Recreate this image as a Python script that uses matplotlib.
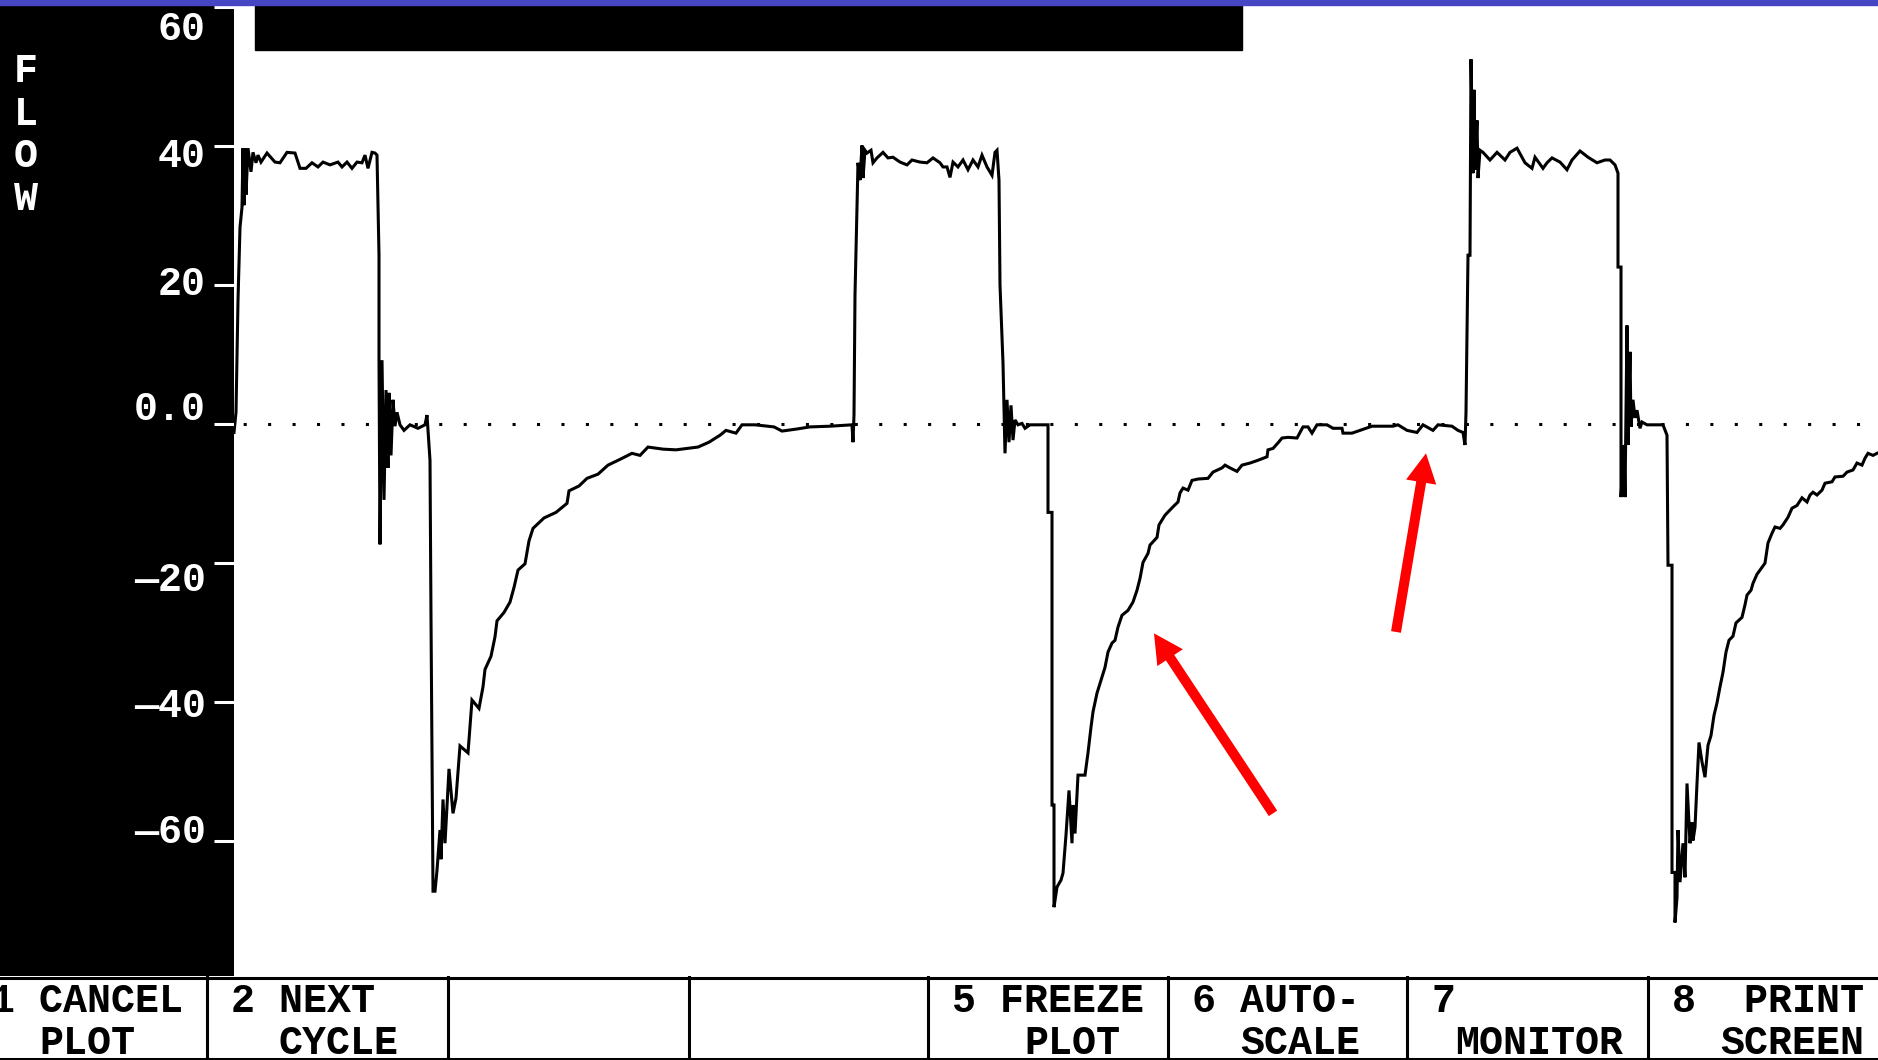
import matplotlib
matplotlib.use("Agg")
import matplotlib.pyplot as plt
from matplotlib.patches import Rectangle

# flow trace, time in s, flow in L/min
breath1_t = [0.00, 0.02, 0.04, 0.06, 0.08, 0.09, 0.10, 0.11, 0.12, 0.14,
             0.17, 0.19, 0.22, 0.24, 0.27, 0.33, 0.41, 0.46, 0.53, 0.61,
             0.66, 0.72, 0.78, 0.84, 0.89, 0.96, 1.04, 1.08, 1.13, 1.18,
             1.23, 1.28, 1.31, 1.34, 1.38, 1.41, 1.43, 1.45, 1.45, 1.46,
             1.48, 1.50, 1.52, 1.54, 1.55, 1.57, 1.59, 1.61, 1.63, 1.66,
             1.70, 1.76, 1.84, 1.91, 1.93, 1.96, 1.97, 1.99, 2.01, 2.03,
             2.06, 2.07, 2.09, 2.11, 2.15, 2.19, 2.22, 2.26, 2.34, 2.38,
             2.45, 2.49, 2.51, 2.57, 2.61, 2.63, 2.70, 2.76, 2.80, 2.84,
             2.91, 2.95, 2.99, 3.10, 3.22, 3.33, 3.35, 3.45, 3.53, 3.64,
             3.74, 3.87, 3.98, 4.06, 4.14, 4.29, 4.42, 4.64, 4.75, 4.86,
             4.92, 5.02, 5.08, 5.21, 5.40, 5.48, 5.63, 5.76, 5.96, 6.18]
breath1_flow = [-1.2, 1.7, 17.8, 28.3, 31.2, 39.7, 31.5, 39.7, 33.0, 39.7,
                36.3, 39.1, 37.6, 38.7, 37.7, 39.0, 37.7, 37.6, 39.1, 39.0,
                36.8, 36.8, 37.6, 37.0, 37.7, 37.3, 37.7, 37.0, 37.7, 36.8,
                37.7, 37.6, 38.7, 36.8, 39.1, 39.0, 38.7, 24.3, 9.2, -17.3,
                9.2, -10.9, 4.9, -6.3, 4.5, -4.5, 3.5, -0.3, 1.7, -0.1,
                -0.9, -0.1, -0.6, -0.1, 1.3, -5.2, -27.9, -67.2, -67.2, -64.2,
                -58.4, -62.6, -54.0, -60.3, -49.6, -56.0, -53.8, -46.3, -47.3, -39.7,
                -40.9, -37.8, -35.3, -33.4, -30.6, -28.3, -27.1, -25.6, -23.5, -21.0,
                -20.1, -16.8, -15.0, -13.5, -12.7, -11.4, -9.6, -8.9, -7.8, -7.2,
                -5.9, -5.0, -4.2, -4.5, -3.3, -3.6, -3.7, -3.3, -2.6, -1.6,
                -0.9, -1.3, -0.1, -0.1, -0.4, -1.0, -0.7, -0.4, -0.3, -0.1]

breath2_t = [6.19, 6.20, 6.21, 6.24, 6.26, 6.28, 6.29, 6.31, 6.33, 6.37,
             6.39, 6.43, 6.49, 6.54, 6.59, 6.66, 6.73, 6.78, 6.86, 6.93,
             6.99, 7.06, 7.09, 7.13, 7.16, 7.19, 7.24, 7.29, 7.34, 7.39,
             7.44, 7.48, 7.53, 7.58, 7.61, 7.63, 7.65, 7.66, 7.69, 7.71,
             7.73, 7.75, 7.77, 7.79, 7.81, 7.84, 7.88, 7.91, 7.96, 8.14,
             8.14, 8.18, 8.18, 8.20, 8.20, 8.23, 8.27, 8.29, 8.32, 8.35,
             8.38, 8.39, 8.41, 8.44, 8.51, 8.54, 8.57, 8.59, 8.63, 8.68,
             8.71, 8.74, 8.78, 8.81, 8.84, 8.88, 8.94, 8.99, 9.03, 9.06,
             9.09, 9.14, 9.16, 9.23, 9.25, 9.31, 9.39, 9.44, 9.46, 9.49,
             9.54, 9.58, 9.64, 9.74, 9.79, 9.88, 9.91, 9.96, 10.03, 10.08,
             10.16, 10.24, 10.33, 10.34, 10.39, 10.44, 10.48, 10.54, 10.63, 10.66,
             10.69, 10.74, 10.78, 10.83, 10.93, 10.99, 11.08, 11.09, 11.18, 11.26,
             11.38, 11.59, 11.64, 11.73, 11.83, 11.89, 11.99, 12.04, 12.18, 12.24,
             12.29, 12.31, 12.32]
breath2_flow = [-2.6, 1.3, 18.6, 37.6, 35.1, 40.1, 35.4, 39.4, 39.0, 39.4,
                37.6, 38.3, 39.1, 38.3, 38.4, 37.7, 37.3, 38.0, 37.7, 37.6,
                38.3, 37.6, 37.0, 37.0, 35.5, 37.7, 37.0, 38.0, 36.6, 38.0,
                37.0, 38.7, 37.0, 35.8, 39.1, 39.4, 35.1, 20.0, 8.8, -4.2,
                3.5, -2.6, 2.7, -2.3, 0.6, -0.1, 0.1, -0.6, -0.1, -0.1,
                -12.7, -12.7, -54.8, -54.8, -69.5, -66.6, -65.6, -64.6, -59.1, -52.7,
                -60.3, -54.8, -58.9, -50.5, -50.5, -47.3, -43.6, -41.4, -38.7, -36.4,
                -35.0, -32.8, -31.5, -31.1, -29.2, -27.5, -26.8, -25.6, -23.9, -22.2,
                -19.9, -18.6, -17.4, -16.3, -14.5, -13.1, -11.9, -11.2, -9.9, -9.2,
                -9.5, -8.1, -7.9, -7.8, -6.9, -6.3, -5.9, -6.3, -6.8, -5.9,
                -5.6, -5.2, -4.7, -3.7, -3.5, -2.7, -2.0, -1.9, -2.0, -1.2,
                -0.4, -0.4, -1.3, -0.1, -0.1, -0.6, -0.6, -1.3, -1.3, -0.9,
                -0.3, -0.3, -0.1, -0.9, -1.2, -0.1, -0.9, -0.1, -0.3, -0.9,
                -1.2, -3.0, 1.7]

breath3_t = [12.34, 12.36, 12.37, 12.39, 12.40, 12.41, 12.43, 12.44, 12.46, 12.49,
             12.56, 12.63, 12.71, 12.76, 12.83, 12.91, 12.98, 13.01, 13.09, 13.13,
             13.18, 13.26, 13.33, 13.38, 13.46, 13.54, 13.63, 13.71, 13.76, 13.81,
             13.84, 13.84, 13.87, 13.87, 13.90, 13.91, 13.93, 13.94, 13.96, 13.97,
             13.99, 14.01, 14.03, 14.06, 14.08, 14.13, 14.29, 14.33, 14.34, 14.38,
             14.38, 14.41, 14.41, 14.43, 14.44, 14.46, 14.49, 14.51, 14.53, 14.56,
             14.58, 14.59, 14.61, 14.63, 14.65, 14.68, 14.71, 14.74, 14.77, 14.80,
             14.83, 14.86, 14.89, 14.92, 14.95, 14.99, 15.02, 15.05, 15.08, 15.11,
             15.13, 15.17, 15.19, 15.23, 15.26, 15.31, 15.34, 15.38, 15.41, 15.46,
             15.49, 15.54, 15.58, 15.63, 15.68, 15.73, 15.76, 15.79, 15.83, 15.88,
             15.91, 15.98, 16.01, 16.09, 16.13, 16.19, 16.23, 16.28, 16.31, 16.34,
             16.39, 16.43]
breath3_flow = [24.3, 24.3, 52.5, 36.1, 48.1, 36.6, 43.7, 35.4, 39.4, 39.1,
                38.0, 39.1, 38.0, 39.1, 39.7, 37.6, 36.8, 38.4, 36.8, 37.6,
                38.3, 37.7, 36.6, 38.0, 39.3, 38.4, 37.6, 38.0, 38.0, 37.3,
                36.1, 22.6, 22.6, -10.5, -3.0, -10.5, 14.2, -3.0, 10.4, -0.4,
                3.5, 0.9, 2.0, -0.6, 0.3, -0.1, -0.1, -1.6, -20.3, -20.3,
                -64.5, -64.5, -71.7, -68.1, -58.4, -65.9, -60.3, -65.2, -51.7, -60.3,
                -57.3, -59.9, -58.0, -51.7, -45.8, -48.6, -50.8, -46.2, -44.8, -41.9,
                -40.1, -37.8, -35.7, -32.8, -31.1, -30.5, -28.6, -28.2, -27.8, -26.0,
                -24.6, -23.9, -22.9, -21.6, -21.0, -20.0, -17.1, -15.7, -14.8, -15.0,
                -14.5, -13.4, -12.1, -11.7, -10.6, -11.2, -10.2, -9.8, -10.2, -9.5,
                -8.5, -8.3, -7.6, -7.5, -6.9, -6.6, -5.6, -5.9, -4.9, -4.2,
                -4.5, -4.2]

ytick_vals = [60, 40, 20, 0, -20, -40, -60]
ytick_labels = ["60", "40", "20", "0.0", "\u201420", "\u201440", "\u201460"]
# labels sit on the screen's text rows, not exactly on the ticks
label_drop_px = [33, 21, 10, -4, 28, 15, 2]

# red annotation arrows: (time, flow) of tail and tip
arrow_tails = [(10.39, -56.0), (11.62, -29.9)]
arrow_tips = [(9.20, -30.1), (11.92, -4.2)]

# function key bar (text laid out on a 24 px character grid)
key_cells = [-33, 207, 448, 689, 928, 1168, 1407, 1648]
key_line1 = ["1 CANCEL", "2 NEXT", "", "", "5 FREEZE", "6 AUTO-", "7", "8  PRINT"]
key_line2 = ["  PLOT", "  CYCLE", "", "", "   PLOT", "  SCALE", " MONITOR", "  SCREEN"]

MONO = ["Liberation Mono", "DejaVu Sans Mono"]
FS = 28.8
CHAR = 24

fig = plt.figure(figsize=(18.78, 10.60), dpi=100, facecolor="black")

ax = fig.add_axes([234 / 1878, 84 / 1060, 1644 / 1878, 971 / 1060])
ax.set_facecolor("white")
ax.set_xlim(0, 16.44)
ax.set_ylim(-79.4, 60.3)
for s in ax.spines.values():
    s.set_visible(False)
ax.set_xticks([])
ax.set_yticks(ytick_vals)
ax.tick_params(axis="y", direction="out", length=14.4, width=2.2,
               color="white", labelleft=False)

t_all = breath1_t + breath2_t + breath3_t
f_all = breath1_flow + breath2_flow + breath3_flow
ax.plot(t_all, f_all, color="black", lw=2.2, solid_joinstyle="miter", zorder=3)

# dotted zero line
ax.axhline(0, color="black", lw=2.2, linestyle=(5, (1, 7)), zorder=2)

for val, lab, dy in zip(ytick_vals, ytick_labels, label_drop_px):
    ax.annotate(lab, xy=(0, val), xycoords=ax.get_yaxis_transform(),
                xytext=(-28, -dy), textcoords="offset pixels",
                ha="right", va="baseline", color="white", fontsize=FS,
                fontweight="bold", family=MONO, annotation_clip=False)

for tail, tip in zip(arrow_tails, arrow_tips):
    ax.annotate("", xy=tip, xytext=tail,
                arrowprops=dict(facecolor="#ff0000", edgecolor="none",
                                width=7.2, headwidth=22, headlength=21,
                                shrink=0),
                zorder=6)

# black title block at the top of the plot area
ax.add_patch(Rectangle((21 / 1644, (976 - 50) / 971), 987 / 1644, 45 / 971,
                       transform=ax.transAxes, color="black", zorder=5,
                       clip_on=False))

# blue strip along the very top
fig.add_artist(Rectangle((0, 1 - 5 / 1060), 1, 5 / 1060,
                         transform=fig.transFigure, color="#4646c4"))

# vertical FLOW label
for i, ch in enumerate("FLOW"):
    base = [82, 125, 167, 210][i]
    fig.text(26 / 1878, 1 - base / 1060, ch, ha="center", va="baseline",
             color="white", fontsize=FS, fontweight="bold", family=MONO)

# function key bar at the bottom
bx = fig.add_axes([0, 0, 1, 84 / 1060])
bx.set_xlim(0, 1878)
bx.set_ylim(0, 84)
bx.set_facecolor("white")
bx.set_xticks([])
bx.set_yticks([])
for s in bx.spines.values():
    s.set_visible(False)
bx.axhline(82.5, color="black", lw=2.2)
bx.axhline(1.5, color="black", lw=2.2)
for x0, l1, l2 in zip(key_cells, key_line1, key_line2):
    if x0 > 0:
        bx.axvline(x0, color="black", lw=2.2)
    bx.text(x0 + CHAR, 48, l1, ha="left", va="baseline", color="black",
            fontsize=FS, fontweight="bold", family=MONO)
    indent = len(l2) - len(l2.lstrip())
    bx.text(x0 + CHAR * (1 + indent), 6, l2.strip(), ha="left",
            va="baseline", color="black", fontsize=FS, fontweight="bold",
            family=MONO)

fig.savefig("out.png", dpi=100, facecolor="black")
